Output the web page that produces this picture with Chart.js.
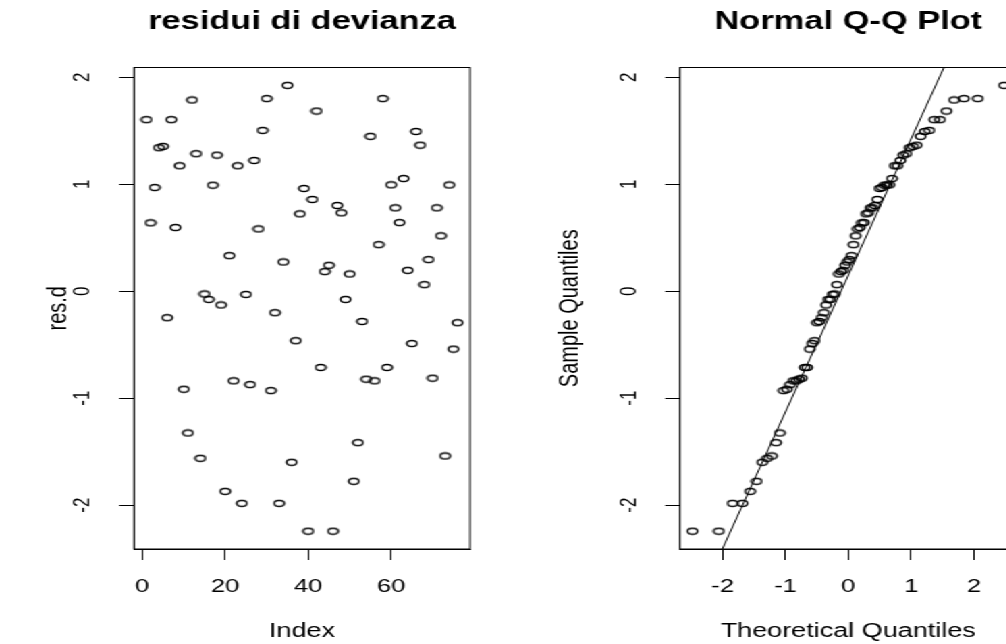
<!DOCTYPE html>
<html>
<head>
<meta charset="utf-8">
<script src="https://cdn.jsdelivr.net/npm/chart.js@4.4.1/dist/chart.umd.min.js"></script>
<style>
  html, body { margin: 0; padding: 0; background: #fff; overflow: hidden; width: 1006px; height: 644px; }
  /* the reference picture is stretched sideways, so the whole stage is too */
  #stage { position: absolute; left: 0; top: 0; width: 746px; height: 644px; transform: scaleX(1.35); transform-origin: 0 0; }
  #stage canvas { position: absolute; top: 0; }
  #resChart { left: 0; }
  #qqChart { left: 373px; }
</style>
</head>
<body>
<div id="stage">
  <canvas id="resChart" width="373" height="644"></canvas>
  <canvas id="qqChart" width="400" height="644"></canvas>
</div>
<script>
// deviance residuals, in index order
const resD = [
  1.603, 0.639, 0.969, 1.341, 1.353, -0.248, 1.603, 0.595, 1.172, -0.916,
  -1.325, 1.787, 1.285, -1.562, -0.026, -0.077, 0.991, 1.272, -0.129, -1.871,
  0.332, -0.838, 1.172, -1.983, -0.030, -0.873, 1.222, 0.582, 1.503, 1.800,
  -0.929, -0.201, -1.983, 0.273, 1.924, -1.599, -0.463, 0.723, 0.960, -2.243,
  0.857, 1.684, -0.713, 0.183, 0.242, -2.243, 0.801, 0.732, -0.077, 0.161,
  -1.777, -1.416, -0.283, -0.822, 1.447, -0.838, 0.435, 1.800, -0.713, 0.994,
  0.779, 0.641, 1.053, 0.195, -0.489, 1.493, 1.365, 0.061, 0.295, -0.813,
  0.779, 0.517, -1.540, 0.993, -0.541, -0.295
];
const index = resD.map((_, i) => i + 1);

// theoretical normal quantiles for n = 76, qnorm((i - 0.5) / 76)
const theoQ = [
  -2.480, -2.060, -1.841, -1.685, -1.562, -1.459, -1.369, -1.289, -1.217, -1.150,
  -1.089, -1.031, -0.976, -0.925, -0.875, -0.828, -0.782, -0.738, -0.695, -0.654,
  -0.614, -0.574, -0.536, -0.498, -0.461, -0.425, -0.389, -0.354, -0.319, -0.284,
  -0.250, -0.216, -0.182, -0.149, -0.116, -0.083, -0.050, -0.017,
  0.017, 0.050, 0.083, 0.116, 0.149, 0.182, 0.216, 0.250, 0.284, 0.319,
  0.354, 0.389, 0.425, 0.461, 0.498, 0.536, 0.574, 0.614, 0.654, 0.695,
  0.738, 0.782, 0.828, 0.875, 0.925, 0.976, 1.031, 1.089, 1.150, 1.217,
  1.289, 1.369, 1.459, 1.562, 1.685, 1.841, 2.060, 2.480
];

const yTicks = [-2, -1, 0, 1, 2];
const indexTicks = [0, 20, 40, 60];
const qqTicks = [-2, -1, 0, 1, 2];

const SX = 1.35;
const FONT = '"Liberation Sans", Arial, Helvetica, sans-serif';

// R style open circle (drawn a bit wide, the stage stretches it more)
function ringImage() {
  const c = document.createElement('canvas');
  c.width = 10; c.height = 9;
  const g = c.getContext('2d');
  g.strokeStyle = '#000';
  g.lineWidth = 1.4;
  g.beginPath();
  g.ellipse(5, 4.5, 3.7, 3.0, 0, 0, Math.PI * 2);
  g.stroke();
  return c;
}
const ring = ringImage();

// R pads the data range by 4% on each side
function padRange(arr) {
  const lo = Math.min(...arr), hi = Math.max(...arr);
  const d = (hi - lo) * 0.04;
  return [lo - d, hi + d];
}

const boxPlugin = {
  id: 'box',
  afterDraw(chart) {
    const { ctx, chartArea: a } = chart;
    ctx.save();
    ctx.strokeStyle = '#000';
    ctx.lineWidth = 1;
    ctx.strokeRect(a.left, a.top, a.right - a.left, a.bottom - a.top);
    ctx.restore();
  }
};

function makeOptions(o) {
  const axisGrid = { drawOnChartArea: false, drawTicks: true, tickLength: 11, color: '#000', lineWidth: 1 };
  return {
    responsive: false,
    animation: false,
    events: [],
    layout: { padding: { left: 0, right: o.padRight, top: 0, bottom: 0 } },
    plugins: {
      legend: { display: false },
      tooltip: { enabled: false },
      title: {
        display: true, text: o.title, fullSize: false, color: '#000',
        font: { family: FONT, size: 25.5, weight: 'bold' },
        padding: { top: 6.4, bottom: 30.5 }
      }
    },
    scales: {
      x: {
        type: 'linear', min: o.xRange[0], max: o.xRange[1],
        afterBuildTicks: s => { s.ticks = o.xTicks.map(v => ({ value: v })); },
        afterFit: s => { s.height = 95; },
        grid: axisGrid,
        border: { display: true, color: '#000', width: 1 },
        ticks: { color: '#000', font: { family: FONT, size: 19 }, padding: 15, maxRotation: 0, autoSkip: false, callback: v => String(v) },
        title: { display: true, text: o.xTitle, color: '#000', font: { family: FONT, size: 20 }, padding: { top: 0, bottom: 1 } }
      },
      y: {
        type: 'linear', min: o.yRange[0], max: o.yRange[1],
        afterBuildTicks: s => { s.ticks = yTicks.map(v => ({ value: v })); },
        afterFit: s => { s.width = o.yAxisW; },
        grid: axisGrid,
        border: { display: true, color: '#000', width: 1 },
        ticks: { color: '#000', font: { family: FONT, size: 17 }, padding: 19, minRotation: 90, maxRotation: 90, crossAlign: 'center', autoSkip: false, callback: v => String(v) },
        title: { display: true, text: o.yTitle, color: '#000', font: { family: FONT, size: 20 }, padding: { top: o.yTitlePad, bottom: 0 } }
      }
    }
  };
}

const yRange = padRange(resD);

// left panel: residuals against index
new Chart(document.getElementById('resChart'), {
  type: 'scatter',
  data: {
    datasets: [{
      data: index.map((x, i) => ({ x: x, y: resD[i] })),
      pointStyle: ring, pointRadius: 4, showLine: false
    }]
  },
  options: makeOptions({
    title: 'residui di devianza', xTitle: 'Index', yTitle: 'res.d',
    xRange: padRange(index), xTicks: indexTicks, yRange: yRange,
    yAxisW: 134 / SX, padRight: 373 - 470 / SX, yTitlePad: 31.5
  }),
  plugins: [boxPlugin]
});

// right panel: normal Q-Q plot with qqline through the quartiles
const sorted = resD.slice().sort((a, b) => a - b);
function quantile7(s, p) {
  const h = (s.length - 1) * p, lo = Math.floor(h);
  return s[lo] + (h - lo) * (s[lo + 1] - s[lo]);
}
const q25 = quantile7(sorted, 0.25), q75 = quantile7(sorted, 0.75);
const z75 = 0.6745;
const slope = (q75 - q25) / (2 * z75);
const icept = q25 + slope * z75;
const qqRange = padRange(theoQ);

new Chart(document.getElementById('qqChart'), {
  type: 'scatter',
  data: {
    datasets: [{
      data: theoQ.map((x, i) => ({ x: x, y: sorted[i] })),
      pointStyle: ring, pointRadius: 4, showLine: false
    }, {
      data: qqRange.map(x => ({ x: x, y: icept + slope * x })),
      showLine: true, borderColor: '#000', borderWidth: 1, pointRadius: 0
    }]
  },
  options: makeOptions({
    title: 'Normal Q-Q Plot', xTitle: 'Theoretical Quantiles', yTitle: 'Sample Quantiles',
    xRange: qqRange, xTicks: qqTicks, yRange: yRange,
    yAxisW: 680 / SX - 373, padRight: 400 - (1016.6 / SX - 373), yTitlePad: 37
  }),
  plugins: [boxPlugin]
});
</script>
</body>
</html>
